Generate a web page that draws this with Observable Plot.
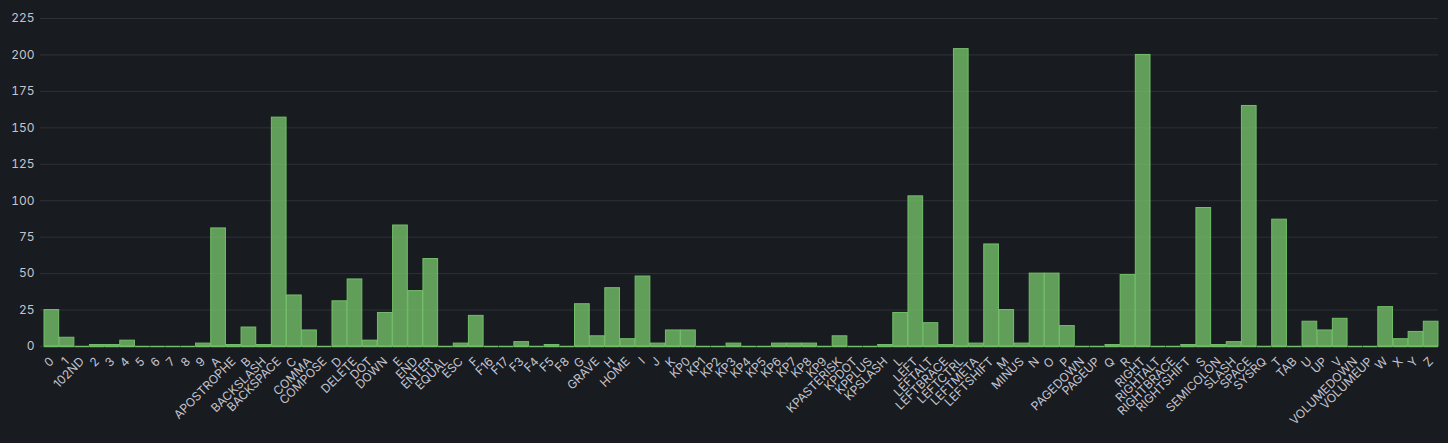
<!DOCTYPE html>
<html>
<head>
<meta charset="utf-8">
<script src="https://cdn.jsdelivr.net/npm/d3@7"></script>
<script src="https://cdn.jsdelivr.net/npm/@observablehq/plot@0.6"></script>
<style>
  html, body { margin: 0; padding: 0; background: #181b1f; }
  #chart svg { display: block; }
</style>
</head>
<body>
<div id="chart"></div>
<script>
const keys = ["0","1","102ND","2","3","4","5","6","7","8","9","A","APOSTROPHE","B","BACKSLASH","BACKSPACE","C","COMMA","COMPOSE","D","DELETE","DOT","DOWN","E","END","ENTER","EQUAL","ESC","F","F16","F17","F3","F4","F5","F8","G","GRAVE","H","HOME","I","J","K","KP0","KP1","KP2","KP3","KP4","KP5","KP6","KP7","KP8","KP9","KPASTERISK","KPDOT","KPPLUS","KPSLASH","L","LEFT","LEFTALT","LEFTBRACE","LEFTCTRL","LEFTMETA","LEFTSHIFT","M","MINUS","N","O","P","PAGEDOWN","PAGEUP","Q","R","RIGHT","RIGHTALT","RIGHTBRACE","RIGHTSHIFT","S","SEMICOLON","SLASH","SPACE","SYSRQ","T","TAB","U","UP","V","VOLUMEDOWN","VOLUMEUP","W","X","Y","Z"];

const counts = [25,6,0,1,1,4,0,0,0,0,2,81,1,13,1,157,35,11,0,31,46,4,23,83,38,60,0,2,21,0,0,3,0,1,0,29,7,40,5,48,2,11,11,0,0,2,0,0,2,2,2,0,7,0,0,1,23,103,16,1,204,2,70,25,2,50,50,14,0,0,1,49,200,0,0,1,95,1,3,165,0,87,0,17,11,19,0,0,27,5,10,17];

const yTicks = [0,25,50,75,100,125,150,175,200,225];

const data = keys.map((k, i) => ({key: k, value: counts[i]}));

const green = "#73BF69";
const textColor = "#c4c4cf";

const chart = Plot.plot({
  width: 1448,
  height: 443,
  marginTop: 18,
  marginLeft: 40,
  marginRight: 10,
  marginBottom: 97,
  style: {background: "#181b1f", color: textColor, fontFamily: "Inter, sans-serif", fontSize: "12px"},
  x: {domain: keys, paddingInner: 0.03, paddingOuter: 0, insetLeft: 4, round: false, label: null},
  y: {domain: [0, 225], label: null},
  marks: [
    Plot.gridY(yTicks, {stroke: "#ccccdc", strokeOpacity: 0.12}),
    Plot.axisY(yTicks, {tickSize: 0, tickPadding: 6, label: null, fill: textColor}),
    Plot.barY(data, {x: "key", y: "value", fill: green, fillOpacity: 0.8, stroke: green, strokeWidth: 1}),
    Plot.tickY(data, {x: "key", y: 0, stroke: green, strokeWidth: 1.5}),
    Plot.axisX({tickSize: 0, tickRotate: -45, tickPadding: 13, label: null, fill: textColor})
  ]
});
document.getElementById("chart").appendChild(chart);
</script>
</body>
</html>
